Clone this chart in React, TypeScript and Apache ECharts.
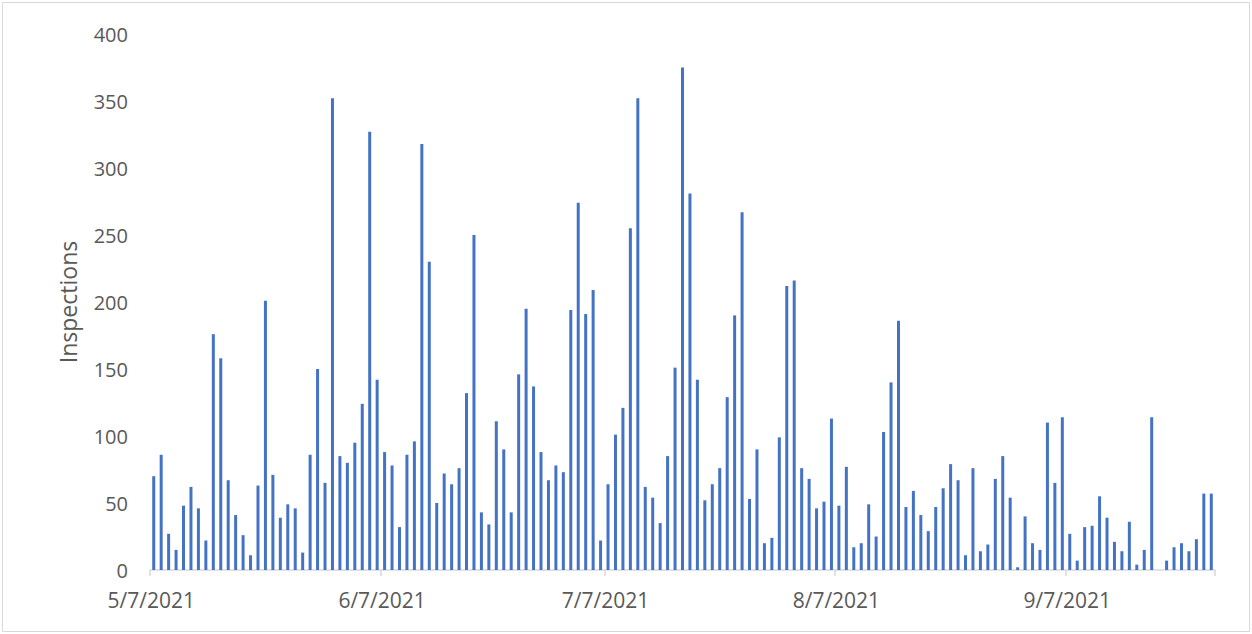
import React, { useEffect, useRef } from "react";
import * as echarts from "echarts";

// Daily inspections, 5/7/2021 through 9/26/2021 (0 = no bar that day)
const inspections: number[] = [
  70, 86, 27, 15, 48, 62, 46, 22, 176, 158,
  67, 41, 26, 11, 63, 201, 71, 39, 49, 46,
  13, 86, 150, 65, 352, 85, 80, 95, 124, 327,
  142, 88, 78, 32, 86, 96, 318, 230, 50, 72,
  64, 76, 132, 250, 43, 34, 111, 90, 43, 146,
  195, 137, 88, 67, 78, 73, 194, 274, 191, 209,
  22, 64, 101, 121, 255, 352, 62, 54, 35, 85,
  151, 375, 281, 142, 52, 64, 76, 129, 190, 267,
  53, 90, 20, 24, 99, 212, 216, 76, 68, 46,
  51, 113, 48, 77, 17, 20, 49, 25, 103, 140,
  186, 47, 59, 41, 29, 47, 61, 79, 67, 11,
  76, 14, 19, 68, 85, 54, 2, 40, 20, 15,
  110, 65, 114, 27, 7, 32, 33, 55, 39, 21,
  14, 36, 4, 15, 114, 0, 7, 17, 20, 14,
  23, 57, 57,
];

const startDate = { y: 2021, m: 5, d: 7 };
const tickLabelDays = ["5/7/2021", "6/7/2021", "7/7/2021", "8/7/2021", "9/7/2021"];
const yTicks = { min: 0, max: 400, interval: 50 };

function buildDates(): string[] {
  const out: string[] = [];
  const base = new Date(Date.UTC(startDate.y, startDate.m - 1, startDate.d));
  for (let i = 0; i < inspections.length; i++) {
    const dt = new Date(base.getTime() + i * 86400000);
    out.push(`${dt.getUTCMonth() + 1}/${dt.getUTCDate()}/${dt.getUTCFullYear()}`);
  }
  return out;
}

export default function App() {
  const ref = useRef<HTMLDivElement>(null);
  useEffect(() => {
    if (!ref.current) return;
    const chart = echarts.init(ref.current, undefined, { renderer: "svg" });
    const dates = buildDates();
    const isTick = (i: number) => tickLabelDays.includes(dates[i]);
    chart.setOption({
      animation: false,
      backgroundColor: "#ffffff",
      textStyle: { fontFamily: "Open Sans" },
      grid: { left: 150, right: 37, top: 34, bottom: 64, containLabel: false },
      graphic: [
        {
          type: "rect",
          shape: { x: 2.5, y: 2.5, width: 1247, height: 629 },
          style: { fill: "none", stroke: "#d9d9d9", lineWidth: 1 },
          silent: true,
        },
      ],
      xAxis: {
        type: "category",
        data: dates,
        boundaryGap: true,
        axisLine: { show: true, lineStyle: { color: "#d9d9d9", width: 1.5 } },
        axisTick: {
          show: true,
          length: 6,
          interval: (i: number) => isTick(i),
          lineStyle: { color: "#d9d9d9", width: 1.5 },
        },
        axisLabel: {
          interval: (i: number) => isTick(i),
          color: "#595959",
          fontSize: 21,
          fontFamily: "Open Sans",
          margin: 19,
          padding: [0, 5, 0, 0],
        },
        splitLine: { show: false },
      },
      yAxis: {
        type: "value",
        min: yTicks.min,
        max: yTicks.max,
        interval: yTicks.interval,
        name: "Inspections",
        nameLocation: "middle",
        nameGap: 71,
        nameRotate: 90,
        nameTextStyle: { color: "#595959", fontSize: 23, fontFamily: "Open Sans" },
        axisLine: { show: false },
        axisTick: { show: false },
        splitLine: { show: false },
        axisLabel: { color: "#595959", fontSize: 20, fontFamily: "Open Sans", margin: 22 },
      },
      series: [
        {
          type: "bar",
          data: inspections,
          barWidth: 3,
          itemStyle: { color: "#4472C4" },
        },
      ],
    });
    return () => chart.dispose();
  }, []);
  return (
    <div
      ref={ref}
      style={{ position: "fixed", left: 0, top: 0, width: 1252, height: 634 }}
    />
  );
}
